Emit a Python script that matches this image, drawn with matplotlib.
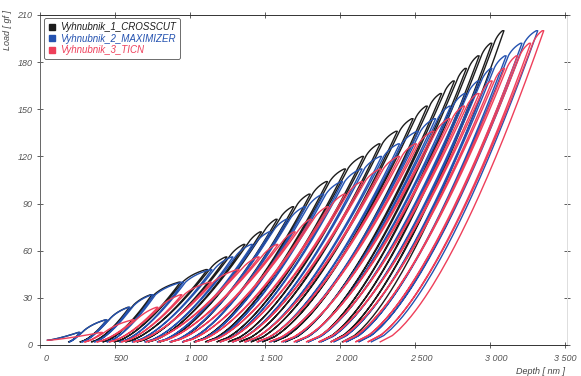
import numpy as np
import matplotlib
matplotlib.use('Agg')
import matplotlib.pyplot as plt
from matplotlib.lines import Line2D
from matplotlib.transforms import ScaledTranslation

plt.rcParams['font.family'] = ['Liberation Sans', 'DejaVu Sans']

# peak load of each cycle [gf], shared by the three samples
loads = [8, 16, 24, 32, 40, 48, 56, 64, 72, 80, 88, 96, 104, 112, 120,
         128, 136, 144, 152, 160, 168, 176, 184, 192, 200]

# depth at peak load and residual depth after unloading [nm]
black_peak = [265, 445, 595, 745, 935, 1115, 1245, 1365, 1475, 1580, 1690, 1800, 1915,
              2035, 2155, 2265, 2380, 2485, 2580, 2675, 2760, 2840, 2925, 3010, 3090]
black_resid = [190, 266, 342, 418, 494, 570, 646, 722, 798, 874, 950, 1026, 1102,
               1178, 1254, 1330, 1406, 1482, 1558, 1634, 1710, 1786, 1862, 1938, 2014]

blue_peak = [265, 445, 600, 755, 955, 1145, 1285, 1415, 1535, 1649, 1770, 1890, 2015,
             2145, 2275, 2395, 2520, 2635, 2735, 2835, 2925, 3010, 3105, 3210, 3315]
blue_resid = [194, 278, 362, 446, 530, 614, 698, 781, 865, 949, 1033, 1117, 1201,
              1285, 1369, 1452, 1536, 1620, 1704, 1788, 1872, 1956, 2040, 2123, 2207]

red_peak = [415, 625, 785, 945, 1140, 1325, 1460, 1585, 1700, 1807, 1921, 2033, 2150,
            2272, 2395, 2507, 2624, 2731, 2828, 2925, 3012, 3094, 3181, 3268, 3355]
red_resid = [296, 378, 460, 542, 624, 706, 789, 871, 953, 1035, 1117, 1199, 1281,
             1363, 1445, 1527, 1609, 1692, 1774, 1856, 1938, 2020, 2102, 2184, 2266]

start_depth = 50
start_load = 3
min_load = 2

names = ['Vyhnubnik_1_CROSSCUT', 'Vyhnubnik_2_MAXIMIZER', 'Vyhnubnik_3_TICN']
colors = ['#1c1c1c', '#2452b0', '#ee3f5a']

xticks = [0, 500, 1000, 1500, 2000, 2500, 3000, 3500]
xtick_labels = ['0', '500', '1 000', '1 500', '2 000', '2 500', '3 000', '3 500']
yticks = [0, 30, 60, 90, 120, 150, 180, 210]


def multicycle(peaks, resids, m=1.5, loop=14, creep=10):
    hs, ps = [], []
    prev = None
    for hp, pp, hr in zip(peaks, loads, resids):
        if prev is None:
            t = np.linspace(0, 1, 40)
            hs += list(start_depth + (hp - creep - start_depth) * t)
            ps += list(start_load + (pp - start_load) * t ** 1.3)
        else:
            hp0, pp0, hr0 = prev
            # reload, slightly to the right of the previous unloading
            q = np.linspace(0, 1, 40)
            hs += list(hr0 + (hp0 - hr0) * q ** (1 / m) + loop * q)
            ps += list(min_load + (pp0 - min_load) * q)
            # rounded step up to the next peak
            ha, pa = hp0 + loop, pp0
            hb, pb = hp - creep, pp
            c = (pb - pa) / (hb - ha)
            su = min(m * (pp0 - min_load) / (hp0 - hr0), 1.8 * c)
            sb = 0.55 * c
            t = ((pb - pa) - (hb - ha) * sb) / (su - sb)
            hc, pc = ha + t, pa + t * su
            s = np.linspace(0, 1, 30)
            hs += list((1 - s) ** 2 * ha + 2 * s * (1 - s) * hc + s ** 2 * hb)
            ps += list((1 - s) ** 2 * pa + 2 * s * (1 - s) * pc + s ** 2 * pb)
        # short hold at peak, then unloading
        q = np.linspace(1, 0, 50)
        hs += list(hr + (hp - hr) * q ** (1 / m))
        ps += list(min_load + (pp - min_load) * q)
        prev = (hp, pp, hr)
    return hs, ps


fig = plt.figure(figsize=(5.81, 3.76), dpi=100)
ax = fig.add_axes([40 / 581, 1 - 345 / 376, 527 / 581, 330 / 376])

for (pk, rs), col in zip([(black_peak, black_resid), (blue_peak, blue_resid),
                          (red_peak, red_resid)], colors):
    h, p = multicycle(pk, rs)
    ax.plot(h, p, color=col, lw=1.0)

ax.set_xlim(0, 3510)
ax.set_ylim(0, 210)
ax.set_xticks(xticks)
ax.set_xticklabels(xtick_labels)
ax.set_yticks(yticks)
ax.tick_params(axis='both', direction='inout', length=5, width=0.6, color='#444444',
               labelsize=6.5, labelcolor='#555555', top=True, right=True)
ax.tick_params(axis='x', pad=4)
ax.tick_params(axis='y', pad=3)
for lab in ax.get_xticklabels() + ax.get_yticklabels():
    lab.set_fontstyle('italic')
for lab in ax.get_xticklabels()[:-1]:
    lab.set_transform(lab.get_transform() + ScaledTranslation(6 / 100, 0, fig.dpi_scale_trans))

ax.spines['left'].set_color('#666666')
ax.spines['bottom'].set_color('#333333')
ax.spines['top'].set_color('#333333')
ax.spines['right'].set_color('#dddddd')
for sp in ax.spines.values():
    sp.set_linewidth(0.7)

handles = [Line2D([], [], marker='s', ls='none', color=c, markersize=5) for c in colors]
leg = ax.legend(handles, names, loc='upper left', bbox_to_anchor=(0.008, 0.99),
                borderaxespad=0, handlelength=0.8, handletextpad=0.4, labelspacing=0.15,
                fancybox=True, framealpha=1, edgecolor='#555555',
                prop={'size': 7, 'style': 'italic'})
leg.get_frame().set_linewidth(0.6)
for txt, c in zip(leg.get_texts(), colors):
    txt.set_color(c)

fig.text(8 / 581, 1 - 30 / 376, 'Load [ gf ]', rotation=90, ha='center', va='center',
         fontsize=6.5, style='italic', color='#444444')
fig.text(540 / 581, 1 - 371 / 376, 'Depth [ nm ]', ha='center', va='center',
         fontsize=6.5, style='italic', color='#444444')

fig.savefig('out.png', dpi=100)
